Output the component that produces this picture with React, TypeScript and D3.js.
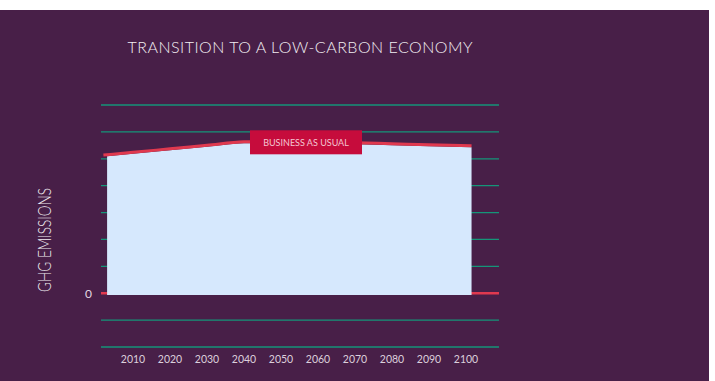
import React from "react";
import * as d3 from "d3";

const years = [2002, 2010, 2020, 2030, 2040, 2050, 2060, 2070, 2080, 2090, 2101.5];
const emissions = [5.14, 5.24, 5.37, 5.5, 5.63, 5.65, 5.63, 5.6, 5.56, 5.52, 5.48];
const areaStartYear = 2003;
const tickYears = [2010, 2020, 2030, 2040, 2050, 2060, 2070, 2080, 2090, 2100];
const gridValues = [-2, -1, 1, 2, 3, 4, 5, 6, 7];
const title = "TRANSITION TO A LOW-CARBON ECONOMY";
const yLabel = "GHG EMISSIONS";
const seriesLabel = "BUSINESS AS USUAL";

const W = 715;
const H = 381;
const FONT = "'Lato', 'Open Sans', sans-serif";

export default function App() {
  const x = d3.scaleLinear().domain([2000, 2110]).range([96, 503]);
  const y = d3.scaleLinear().domain([-2, 7]).range([347, 105]);
  const gx0 = 101;
  const gx1 = 499;

  const lineData = years.map((yr, i) => ({ yr, v: emissions[i] }));
  const interp = d3.scaleLinear().domain(years).range(emissions);
  const areaData = [{ yr: areaStartYear, v: interp(areaStartYear) }, ...lineData.filter((d) => d.yr > areaStartYear)];

  const line = d3.line<{ yr: number; v: number }>().x((d) => x(d.yr)).y((d) => y(d.v)).curve(d3.curveMonotoneX);
  const area = d3
    .area<{ yr: number; v: number }>()
    .x((d) => x(d.yr))
    .y0(y(0) + 1.8)
    .y1((d) => y(d.v) + 1.5)
    .curve(d3.curveMonotoneX);

  const labelX = x(2050) + 25;
  const labelY = y(5.65);

  return (
    <svg width={W} height={H} style={{ position: "absolute", left: 0, top: 0, display: "block" }}>
      <rect x={0} y={10} width={709} height={H - 10} fill="#481f48" />
      <text
        x={300}
        y={53}
        textAnchor="middle"
        fill="#f2eef2"
        fontFamily={FONT}
        fontSize={16}
        fontWeight={300}
        textLength={345}
        lengthAdjust="spacing"
      >
        {title}
      </text>
      {gridValues.map((g) => (
        <line key={g} x1={gx0} x2={gx1} y1={y(g)} y2={y(g)} stroke="#159579" strokeWidth={1.3} />
      ))}
      <line x1={gx0} x2={gx1} y1={y(0)} y2={y(0)} stroke="#e0394f" strokeWidth={2.4} />
      <path d={area(areaData) || ""} fill="#d6e8fd" />
      <path d={line(lineData) || ""} fill="none" stroke="#e0394f" strokeWidth={3} />
      <rect x={labelX - 56} y={labelY - 11} width={112} height={24} fill="#c60c3c" />
      <text x={labelX} y={labelY + 4.5} textAnchor="middle" fill="#f4c6d2" fontFamily={FONT} fontSize={9}>
        {seriesLabel}
      </text>
      <text x={92} y={y(0) + 4.5} textAnchor="end" fill="#e2d8e2" fontFamily={FONT} fontSize={12}>
        0
      </text>
      {tickYears.map((t) => (
        <text key={t} x={x(t)} y={363} textAnchor="middle" fill="#dccfdc" fontFamily={FONT} fontSize={10.5}>
          {t}
        </text>
      ))}
      <text
        transform={`translate(51, 240) rotate(-90)`}
        textAnchor="middle"
        fill="#f2eef2"
        fontFamily={FONT}
        fontSize={17.5}
        fontWeight={300}
        textLength={104}
        lengthAdjust="spacingAndGlyphs"
      >
        {yLabel}
      </text>
    </svg>
  );
}
